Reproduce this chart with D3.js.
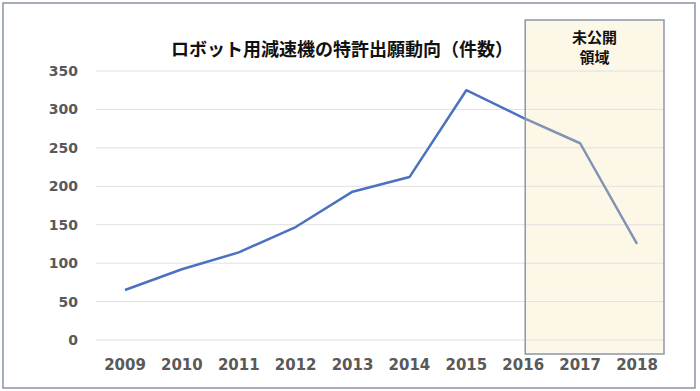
<!DOCTYPE html>
<html>
<head>
<meta charset="utf-8">
<script src="https://cdn.jsdelivr.net/npm/d3@7"></script>
<style>
  body { margin: 0; background: #fff; }
  svg { display: block; }
</style>
</head>
<body>
<svg id="chart" width="700" height="391"></svg>
<script>
const years = [2009, 2010, 2011, 2012, 2013, 2014, 2015, 2016, 2017, 2018];
const counts = [65, 92, 114, 147, 193, 212, 325, 289, 256, 125];
const yTicks = [0, 50, 100, 150, 200, 250, 300, 350];
const titleText = "ロボット用減速機の特許出願動向（件数）";
const boxLabel = ["未公開", "領域"];

const svg = d3.select("#chart");
const numFont = "'DejaVu Sans', sans-serif";
const jpFont = "'Noto Sans CJK JP', sans-serif";

const x = d3.scalePoint().domain(years).range([125, 637]);
const y = d3.scaleLinear().domain([0, 350]).range([340, 71]);

const gridLeft = 96, gridRight = 664;

// outer frame
svg.append("rect")
    .attr("x", 3).attr("y", 3).attr("width", 692).attr("height", 385)
    .attr("fill", "#fff").attr("stroke", "#8a94a6").attr("stroke-width", 1.5);

// unpublished region box (fill first)
const box = { x: x(2016) + 2, y: 20, w: gridRight - x(2016) - 2, h: 334 };
svg.append("rect")
    .attr("x", box.x).attr("y", box.y).attr("width", box.w).attr("height", box.h)
    .attr("fill", "#fdf7e8");

// gridlines
svg.append("g")
    .selectAll("line")
    .data(yTicks)
    .join("line")
    .attr("x1", gridLeft).attr("x2", gridRight)
    .attr("y1", d => y(d)).attr("y2", d => y(d))
    .attr("stroke", "#e0e0e0").attr("stroke-width", 1);

// y axis labels
svg.append("g")
    .selectAll("text")
    .data(yTicks)
    .join("text")
    .attr("x", 78).attr("y", d => y(d) + 5)
    .attr("text-anchor", "end")
    .attr("font-family", numFont).attr("font-weight", "bold").attr("font-size", 14)
    .attr("fill", "#595959")
    .text(d => d);

// x axis labels
svg.append("g")
    .selectAll("text")
    .data(years)
    .join("text")
    .attr("x", d => x(d)).attr("y", 370)
    .attr("text-anchor", "middle")
    .attr("font-family", numFont).attr("font-weight", "bold").attr("font-size", 15)
    .attr("fill", "#595959")
    .text(d => d);

// clip paths for line colours
const defs = svg.append("defs");
defs.append("clipPath").attr("id", "outside")
    .append("rect").attr("x", 0).attr("y", 0).attr("width", box.x).attr("height", 391);
defs.append("clipPath").attr("id", "inside")
    .append("rect").attr("x", box.x).attr("y", 0).attr("width", 700 - box.x).attr("height", 391);

const line = d3.line()
    .x((d, i) => x(years[i]))
    .y(d => y(d));

svg.append("path")
    .datum(counts)
    .attr("d", line)
    .attr("fill", "none")
    .attr("stroke", "#4a72c0").attr("stroke-width", 2.5)
    .attr("stroke-linejoin", "round")
    .attr("clip-path", "url(#outside)");

svg.append("path")
    .datum(counts)
    .attr("d", line)
    .attr("fill", "none")
    .attr("stroke", "#8393b4").attr("stroke-width", 2.5)
    .attr("stroke-linejoin", "round")
    .attr("clip-path", "url(#inside)");

// box outline
svg.append("rect")
    .attr("x", box.x).attr("y", box.y).attr("width", box.w).attr("height", box.h)
    .attr("fill", "none").attr("stroke", "#8c96ab").attr("stroke-width", 1.5);

// box label
svg.append("g")
    .selectAll("text")
    .data(boxLabel)
    .join("text")
    .attr("x", box.x + box.w / 2).attr("y", (d, i) => 43 + i * 20)
    .attr("text-anchor", "middle")
    .attr("font-family", jpFont).attr("font-weight", "bold").attr("font-size", 15)
    .attr("fill", "#111")
    .text(d => d);

// title
svg.append("text")
    .attr("x", 342).attr("y", 56)
    .attr("text-anchor", "middle")
    .attr("font-family", jpFont).attr("font-weight", "bold").attr("font-size", 18)
    .attr("fill", "#111")
    .text(titleText);
</script>
</body>
</html>
